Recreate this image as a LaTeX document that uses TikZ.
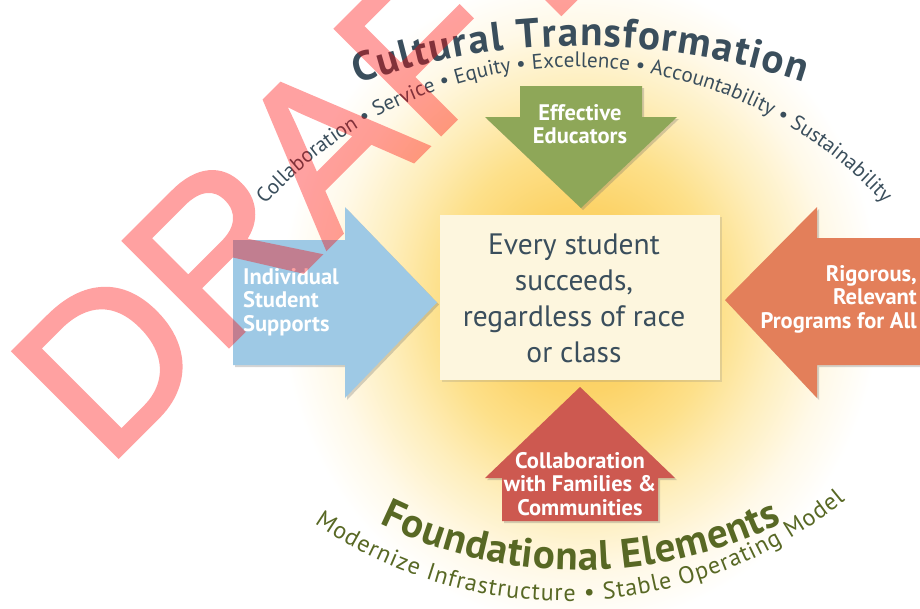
\documentclass[tikz,border=0pt]{standalone}
\usepackage{fontspec}
\setmainfont{PT Sans}
\newfontfamily\wmfont[FakeBold=1.7]{Liberation Sans}
\usetikzlibrary{decorations.text,shadows}
\definecolor{slate}{RGB}{58,78,92}
\definecolor{olive}{RGB}{88,104,36}
\definecolor{greenarr}{RGB}{142,167,88}
\definecolor{bluearr}{RGB}{158,201,229}
\definecolor{orangearr}{RGB}{227,127,90}
\definecolor{redarr}{RGB}{205,89,80}
\definecolor{cream}{RGB}{253,246,222}
\definecolor{goldA}{RGB}{251,204,88}
\definecolor{goldB}{RGB}{252,211,104}
\definecolor{goldC}{RGB}{253,224,138}
\definecolor{goldD}{RGB}{254,238,188}
\definecolor{goldE}{RGB}{255,249,232}
\pgfdeclareradialshading{glowshade}{\pgfpoint{0bp}{0bp}}{color(0bp)=(goldA); color(6.4bp)=(goldB); color(10.6bp)=(goldC); color(14.8bp)=(goldD); color(19.1bp)=(goldE); color(22.7bp)=(white); color(50bp)=(white)}
\tikzset{
  arrshadow/.style={drop shadow={shadow xshift=2pt, shadow yshift=-2pt, opacity=0.28, fill=black!60}},
  arrlabel/.style={text=white, font=\bfseries\fontsize{22.5}{23.5}\selectfont, inner sep=0pt},
  arctext/.style={decorate, decoration={text along path, text align={fit to path}, text color=#1}},
}
\begin{document}
\begin{tikzpicture}[x=1pt,y=1pt]
\useasboundingbox (0,0) rectangle (920,-608);
% glow
\shade[shading=glowshade] (580,-300) ellipse [x radius=330, y radius=360];

% arcs of text
\path[arctext=slate, decoration={text={|\fontsize{21}{21}\selectfont|Collaboration • Service • Equity • Excellence • Accountability • Sustainability}}]
  (575,-484) ++(138:417) arc[start angle=138, end angle=42.3, radius=417];
\path[arctext=slate, decoration={text={|\bfseries\fontsize{41}{41}\selectfont|Cultural Transformation}}]
  (582,-737) ++(109:691) arc[start angle=109, end angle=71.3, radius=691];
\path[arctext=olive, decoration={text={|\bfseries\fontsize{41}{41}\selectfont|Foundational Elements}}]
  (580,-112) ++(244:458) arc[start angle=244, end angle=296.2, radius=458];
\path[arctext=olive, decoration={text={|\fontsize{24}{24}\selectfont|Modernize Infrastructure • Stable Operating Model}}]
  (564,-159) ++(235.6:442) arc[start angle=235.6, end angle=309.5, radius=442];

% arrows
\path[fill=bluearr, arrshadow] (233,-240) -- (345,-240) -- (345,-207) -- (437,-302.5) -- (345,-398) -- (345,-365) -- (233,-365) -- cycle;
\path[fill=orangearr, arrshadow] (925,-238) -- (817,-238) -- (817,-207) -- (725,-300) -- (817,-398) -- (817,-365) -- (925,-365) -- cycle;
\path[fill=greenarr, arrshadow] (520,-86) -- (642,-86) -- (642,-117) -- (677,-117) -- (581,-208) -- (485,-117) -- (520,-117) -- cycle;
\path[fill=redarr, arrshadow] (502,-521) -- (502,-478) -- (485,-478) -- (580,-387) -- (675,-478) -- (658,-478) -- (658,-521) -- cycle;

% centre box
\node[name=goalbox, fill=cream, minimum width=280pt, minimum height=165pt, inner sep=0pt, drop shadow={shadow xshift=2pt, shadow yshift=-2pt, opacity=0.22, fill=black!50}] at (580,-297.5) {};
\node[name=goaltext, text=slate, align=center, inner sep=0pt, font=\fontsize{29.5}{36}\selectfont] at (574,-298) {Every student\\succeeds,\\regardless of race\\or class};

% arrow labels
\node[name=lblblue, arrlabel, align=left, anchor=west] at (243,-302) {Individual\\Student\\Supports};
\node[name=lblgreen, arrlabel, align=center] at (580,-124) {Effective\\Educators};
\node[name=lblorange, arrlabel, align=right, anchor=east] at (917,-299) {Rigorous,\\Relevant\\Programs for All};
\node[name=lblred, arrlabel, align=center] at (580,-484) {Collaboration\\with Families \&\\Communities};

% watermark
\begin{scope}[transparency group, opacity=0.37]
\node[name=draftmark, rotate=45, anchor=base west, inner sep=0pt, text=red, font=\wmfont\fontsize{216}{216}\selectfont] at (106,-469) {DRAFT};
\end{scope}
\end{tikzpicture}
\end{document}
